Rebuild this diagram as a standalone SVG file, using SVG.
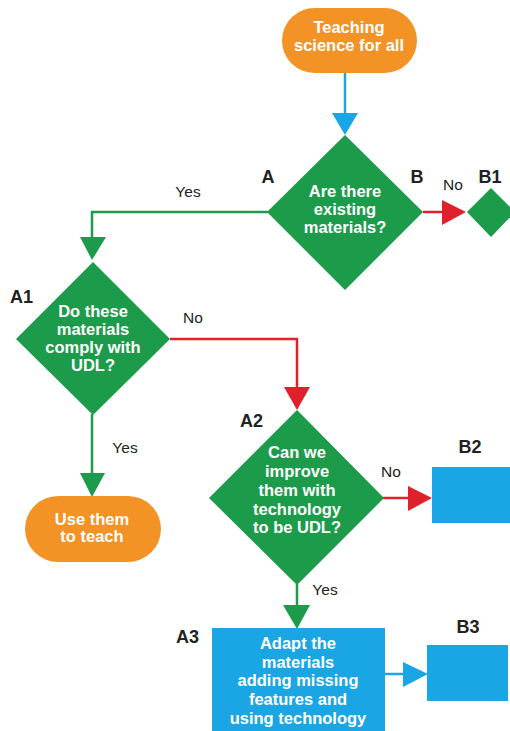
<svg xmlns="http://www.w3.org/2000/svg" width="510" height="731" viewBox="0 0 510 731">
<style>
.g{fill:#1C9B4A}
.o{fill:#F39325}
.b{fill:#1AA6E4}
.t{font-family:"Liberation Sans",Arial,sans-serif;font-weight:bold;font-size:16.5px;fill:#fff;text-anchor:middle}
.lb{font-family:"Liberation Sans",Arial,sans-serif;font-weight:bold;font-size:18px;fill:#222}
.yn{font-family:"Liberation Sans",Arial,sans-serif;font-size:15.5px;fill:#222}
.lg{stroke:#1C9B4A;stroke-width:2.5;fill:none}
.lr{stroke:#E0212B;stroke-width:2.5;fill:none}
.lbl{stroke:#1AA6E4;stroke-width:2.5;fill:none}
.ag{fill:#1C9B4A}
.ar{fill:#E0212B}
.ab{fill:#1AA6E4}
</style>
<rect width="510" height="731" fill="#fff"/>
<g id="connectors">
  <line class="lbl" x1="345" y1="73" x2="345" y2="115"/>
  <polygon class="ab" points="332,113 358,113 345,135"/>
  <polyline class="lg" points="268,212 92,212 92,240"/>
  <polygon class="ag" points="80,237 106,237 92,260"/>
  <line class="lr" x1="423" y1="212" x2="444" y2="212"/>
  <polygon class="ar" points="442,200 442,225 466,212"/>
  <polyline class="lr" points="170,339 297,339 297,390"/>
  <polygon class="ar" points="284,387 310,387 297,410"/>
  <line class="lg" x1="92" y1="414" x2="92" y2="475"/>
  <polygon class="ag" points="80,473 105,473 92,497"/>
  <line class="lr" x1="383" y1="498" x2="410" y2="498"/>
  <polygon class="ar" points="408,486 408,511 432,498"/>
  <line class="lg" x1="297" y1="584" x2="297" y2="607"/>
  <polygon class="ag" points="283,605 310,605 297,629"/>
  <line class="lbl" x1="385" y1="674" x2="405" y2="674"/>
  <polygon class="ab" points="403,662 403,687 428,674"/>
  <text class="yn" x="188" y="197" text-anchor="middle">Yes</text>
  <text class="yn" x="453" y="190" text-anchor="middle">No</text>
  <text class="yn" x="193" y="323" text-anchor="middle">No</text>
  <text class="yn" x="125" y="453" text-anchor="middle">Yes</text>
  <text class="yn" x="391" y="477" text-anchor="middle">No</text>
  <text class="yn" x="325" y="595" text-anchor="middle">Yes</text>
</g>
<g id="start">
  <rect class="o" x="282" y="8" width="135" height="65" rx="32.5"/>
  <text class="t" x="349" y="33">Teaching</text>
  <text class="t" x="349" y="51">science for all</text>
</g>
<g id="A">
  <polygon class="g" points="345,135 423,212 345,290 267,212"/>
  <text class="t" x="345" y="197">Are there</text>
  <text class="t" x="345" y="215">existing</text>
  <text class="t" x="345" y="233">materials?</text>
  <text class="lb" x="268" y="183" text-anchor="middle">A</text>
  <text class="lb" x="417" y="183" text-anchor="middle">B</text>
</g>
<g id="B1">
  <polygon class="g" points="491,188 515,212 491,237 467,212"/>
  <text class="lb" x="490" y="183" text-anchor="middle">B1</text>
</g>
<g id="A1">
  <polygon class="g" points="93,262 170,339 93,415 16,339"/>
  <text class="t" x="93" y="317">Do these</text>
  <text class="t" x="93" y="335">materials</text>
  <text class="t" x="93" y="353">comply with</text>
  <text class="t" x="93" y="371">UDL?</text>
  <text class="lb" x="10" y="303">A1</text>
</g>
<g id="use">
  <rect class="o" x="25" y="496" width="136" height="66" rx="33"/>
  <text class="t" x="92" y="525">Use them</text>
  <text class="t" x="92" y="542">to teach</text>
</g>
<g id="A2">
  <polygon class="g" points="297,410 384,498 297,585 209,498"/>
  <text class="t" x="297" y="458">Can we</text>
  <text class="t" x="297" y="477">improve</text>
  <text class="t" x="297" y="496">them with</text>
  <text class="t" x="297" y="515">technology</text>
  <text class="t" x="297" y="533">to be UDL?</text>
  <text class="lb" x="240" y="427">A2</text>
</g>
<g id="B2">
  <rect class="b" x="432" y="467" width="80" height="56"/>
  <text class="lb" x="470" y="453" text-anchor="middle">B2</text>
</g>
<g id="A3">
  <rect class="b" x="212" y="628" width="173" height="105"/>
  <text class="t" x="298" y="649">Adapt the</text>
  <text class="t" x="298" y="668">materials</text>
  <text class="t" x="298" y="686">adding missing</text>
  <text class="t" x="298" y="705">features and</text>
  <text class="t" x="298" y="724">using technology</text>
  <text class="lb" x="176" y="643">A3</text>
</g>
<g id="B3">
  <rect class="b" x="427" y="645" width="81" height="56"/>
  <text class="lb" x="468" y="633" text-anchor="middle">B3</text>
</g>
</svg>
